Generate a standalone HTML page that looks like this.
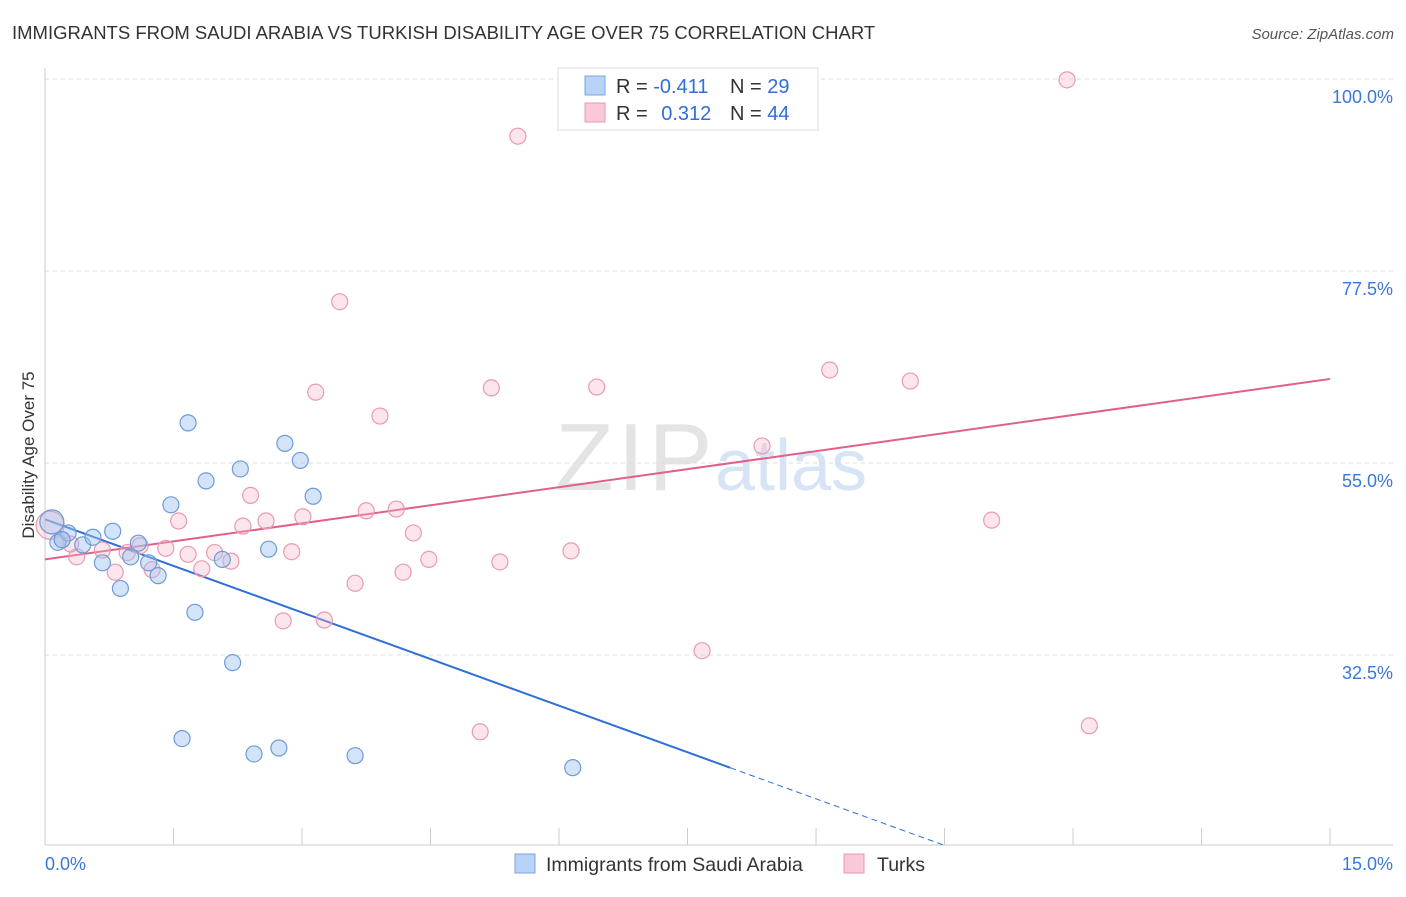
<!DOCTYPE html>
<html><head><meta charset="utf-8"><style>
body{margin:0;background:#fff;font-family:"Liberation Sans",sans-serif}
svg text{font-family:"Liberation Sans",sans-serif}
</style></head><body>
<svg id="chart" width="1406" height="892">
<text x="12" y="39" font-size="18.5" fill="#333">IMMIGRANTS FROM SAUDI ARABIA VS TURKISH DISABILITY AGE OVER 75 CORRELATION CHART</text>
<text x="1394" y="39" font-size="15" fill="#555" font-style="italic" text-anchor="end">Source: ZipAtlas.com</text>
<text x="34" y="455" font-size="17" fill="#333" text-anchor="middle" transform="rotate(-90 34 455)">Disability Age Over 75</text>
<g>
<text x="555" y="490" font-size="96" fill="#e4e4e4" font-family="Liberation Serif,serif" letter-spacing="4">ZIP</text>
<text x="715" y="490" font-size="72" fill="#d6e4f5">atlas</text>
</g>
<g id="grid"></g><g id="axes"></g><g id="lines"></g><g id="points"></g>
<g>
<rect x="558" y="68" width="260" height="62" fill="#fff" stroke="#ddd"/>
<rect x="585" y="76" width="20" height="19" fill="#b8d3f5" stroke="#7aa6e0"/>
<rect x="585" y="103" width="20" height="19" fill="#fac8d8" stroke="#e89ab2"/>
<text x="616" y="93" font-size="20" fill="#333">R = <tspan fill="#2f6fd6">-0.411</tspan></text>
<text x="730" y="93" font-size="20" fill="#333">N = <tspan fill="#2f6fd6">29</tspan></text>
<text x="616" y="120" font-size="20" fill="#333">R = <tspan fill="#2f6fd6" dx="8">0.312</tspan></text>
<text x="730" y="120" font-size="20" fill="#333">N = <tspan fill="#2f6fd6">44</tspan></text>
</g>
<g>
<rect x="515" y="854" width="20" height="19" fill="#b8d3f5" stroke="#7aa6e0"/>
<text x="546" y="871" font-size="19.5" fill="#333">Immigrants from Saudi Arabia</text>
<rect x="844" y="854" width="20" height="19" fill="#fac8d8" stroke="#e89ab2"/>
<text x="877" y="871" font-size="19.5" fill="#333">Turks</text>
</g>
</svg>
<script>
const xTicks=[0,1.5,3,4.5,6,7.5,9,10.5,12,13.5,15];
const yTicks=[100,77.5,55,32.5];
const yTickLabels=["100.0%","77.5%","55.0%","32.5%"];
const blueX=[0.08,0.15,0.27,0.44,0.56,0.67,0.79,0.88,1.0,1.09,1.21,1.32,1.47,1.60,1.67,1.75,1.88,2.07,2.19,2.28,2.44,2.61,2.73,2.80,2.98,3.13,3.62,6.16,0.2];
const blueY=[48.1,45.7,46.8,45.4,46.3,43.3,47.0,40.3,44.0,45.6,43.3,41.8,50.1,22.7,59.7,37.5,52.9,43.7,31.6,54.3,20.9,44.9,21.6,57.3,55.3,51.1,20.7,19.3,46.0];
const pinkX=[0.06,0.20,0.37,0.67,0.82,0.96,1.11,1.25,1.41,1.56,1.67,1.83,1.98,2.17,2.31,2.40,2.58,2.78,2.88,3.01,3.16,3.26,3.44,3.62,3.75,3.91,4.10,4.18,4.30,4.48,5.08,5.21,5.31,5.52,6.14,6.44,7.67,8.37,9.16,10.10,11.05,11.93,12.19,0.3];
const pinkY=[47.7,46.0,44.0,44.8,42.2,44.5,45.3,42.5,45.0,48.2,44.3,42.6,44.5,43.5,47.6,51.2,48.2,36.5,44.6,48.7,63.3,36.6,73.9,40.9,49.4,60.5,49.6,42.2,46.8,43.7,23.5,63.8,43.4,93.3,44.7,63.9,33.0,57.0,65.9,64.6,48.3,99.9,24.2,45.5];
const blueLine=[48.4,-3.64];
const pinkLine=[43.7,1.41];
const X=v=>45+v*85.67, Y=v=>79+(100-v)*8.533;
const NS="http://www.w3.org/2000/svg";
function mk(p,t,a){const e=document.createElementNS(NS,t);for(const k in a)e.setAttribute(k,a[k]);p.appendChild(e);return e;}
const grid=document.getElementById('grid'),axes=document.getElementById('axes');
yTicks.forEach((t,i)=>{
 const g=mk(grid,'line',{x1:45,x2:1393,y1:Y(t),y2:Y(t),stroke:'#ddd','stroke-dasharray':'4,4'});
 
 
 const l=mk(axes,'text',{x:1393,y:Y(t)+24,'font-size':18,fill:'#3a78d8','text-anchor':'end'});l.textContent=yTickLabels[i];
 
 
});
mk(axes,'line',{x1:45,x2:45,y1:68,y2:845,stroke:'#ccc'});
mk(axes,'line',{x1:45,x2:1393,y1:845,y2:845,stroke:'#ccc'});
xTicks.forEach(t=>{const k=mk(axes,'line',{x1:X(t),x2:X(t),y1:828,y2:845,stroke:'#ccc'});
 
 });
const l0=mk(axes,'text',{x:45,y:870,'font-size':18,fill:'#3a78d8'});l0.textContent='0.0%';
const l1=mk(axes,'text',{x:1393,y:870,'font-size':18,fill:'#3a78d8','text-anchor':'end'});l1.textContent='15.0%';
const lines=document.getElementById('lines'),pts=document.getElementById('points');
const bl=v=>blueLine[0]+blueLine[1]*v, pl=v=>pinkLine[0]+pinkLine[1]*v;
const bs=mk(lines,'line',{x1:X(0),y1:Y(bl(0)),x2:X(8),y2:Y(bl(8)),stroke:'#2f6fd6','stroke-width':2});


const bd=mk(lines,'line',{x1:X(8),y1:Y(bl(8)),x2:X(10.5),y2:Y(bl(10.5)),stroke:'#2f6fd6','stroke-width':1,'stroke-dasharray':'6,4'});


const pk=mk(lines,'line',{x1:X(0),y1:Y(pl(0)),x2:X(15),y2:Y(pl(15)),stroke:'#e0608a','stroke-width':2});


pinkX.forEach((x,i)=>{const c=mk(pts,'circle',{cx:X(x),cy:Y(pinkY[i]),r:i==0?14:8,fill:'rgba(248,180,200,0.35)',stroke:'#e89ab2','stroke-width':1.2});
 
 });
blueX.forEach((x,i)=>{const c=mk(pts,'circle',{cx:X(x),cy:Y(blueY[i]),r:i==0?12:8,fill:'rgba(160,196,240,0.45)',stroke:'#6f9ad8','stroke-width':1.2});
 
 });
</script>
</body></html>
